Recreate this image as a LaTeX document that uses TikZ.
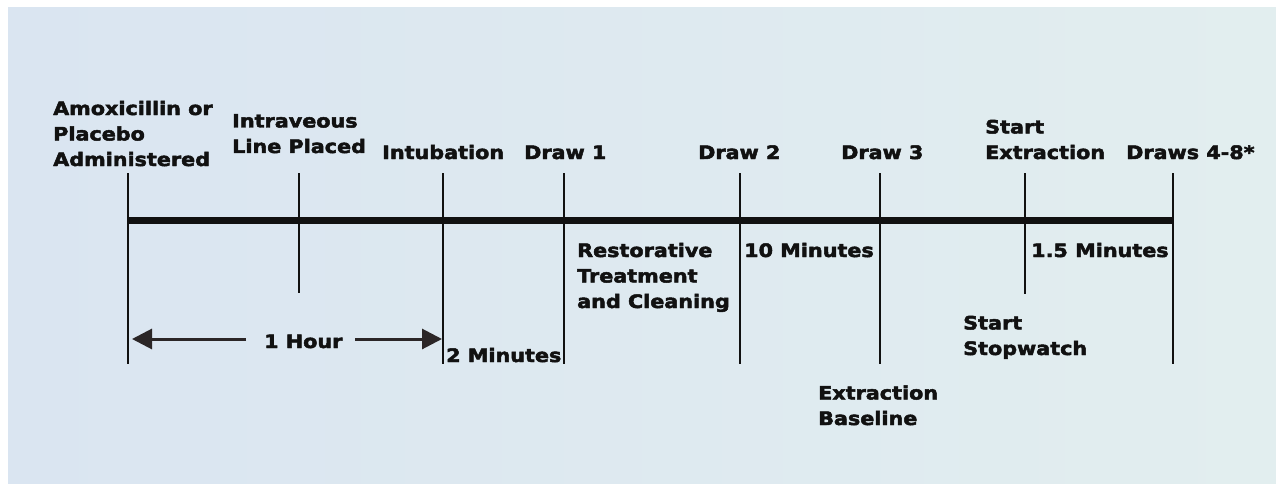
\documentclass[tikz,border=0pt]{standalone}
\usepackage{fontspec}
\usetikzlibrary{arrows.meta}
\newfontfamily\labfont{DejaVu Sans}[FakeStretch=1.12,BoldFeatures={FakeBold=2.6,FakeStretch=1.12}]
\definecolor{bgleft}{HTML}{DAE5F1}
\definecolor{bgright}{HTML}{E2EEEF}
\definecolor{ink}{HTML}{111111}
\definecolor{arrowink}{HTML}{2B2627}
\tikzset{
  lbl/.style={anchor=base west, inner sep=0pt, align=left, text=ink,
    font=\labfont\bfseries\fontsize{18.5}{25.5}\selectfont},
  axis/.style={draw=ink, line width=7.5pt},
  tick/.style={draw=ink, line width=2.2pt},
  span/.style={draw=arrowink, line width=3pt, -{Triangle[length=20pt,width=20pt]}}
}
\begin{document}
\begin{tikzpicture}[x=1pt,y=-1pt]
\useasboundingbox (0,0) rectangle (1276,484);
\fill[white] (0,0) rectangle (1276,484);
\shade[left color=bgleft, right color=bgright] (8,8) rectangle (1276,484);

% timeline
\coordinate (L0) at (128,220.5);
\coordinate (L1) at (1173,220.5);
\draw[axis] (L0) -- (L1);

% ticks
\foreach \n/\x/\b in {t1/128/364, t2/299/293, t3/443/364, t4/564/364, t5/740/364, t6/880/364, t7/1025/294, t8/1173/364}{
  \coordinate (\n a) at (\x,173);
  \coordinate (\n b) at (\x,\b);
  \draw[tick] (\n a) -- (\n b);
}

% labels above (multi-line labels anchored at the baseline of their last line)
\node[lbl] (amox) at (53,166) {Amoxicillin or\\Placebo\\Administered};
\node[lbl] (iv) at (232,153) {Intraveous\\Line Placed};
\node[lbl] (intub) at (382,159) {Intubation};
\node[lbl] (d1) at (524,159) {Draw 1};
\node[lbl] (d2) at (698,159) {Draw 2};
\node[lbl] (d3) at (841,159) {Draw 3};
\node[lbl] (sext) at (985,159) {Start\\Extraction};
\node[lbl] (draws) at (1126,159) {Draws 4-8*};

% labels below
\node[lbl] (rest) at (577,308) {Restorative\\Treatment\\and Cleaning};
\node[lbl] (ten) at (744,257) {10 Minutes};
\node[lbl] (onefive) at (1031,257) {1.5 Minutes};
\node[lbl] (two) at (446,362) {2 Minutes};
\node[lbl] (hour) at (264,348) {1 Hour};
\node[lbl] (stop) at (963,355) {Start\\Stopwatch};
\node[lbl] (xbase) at (818,425) {Extraction\\Baseline};

% 1 hour span arrows
\coordinate (hl) at (246,339);
\coordinate (hlt) at (132,339);
\coordinate (hr) at (355,339);
\coordinate (hrt) at (442,339);
\draw[span] (hl) -- (hlt);
\draw[span] (hr) -- (hrt);
\end{tikzpicture}
\end{document}
